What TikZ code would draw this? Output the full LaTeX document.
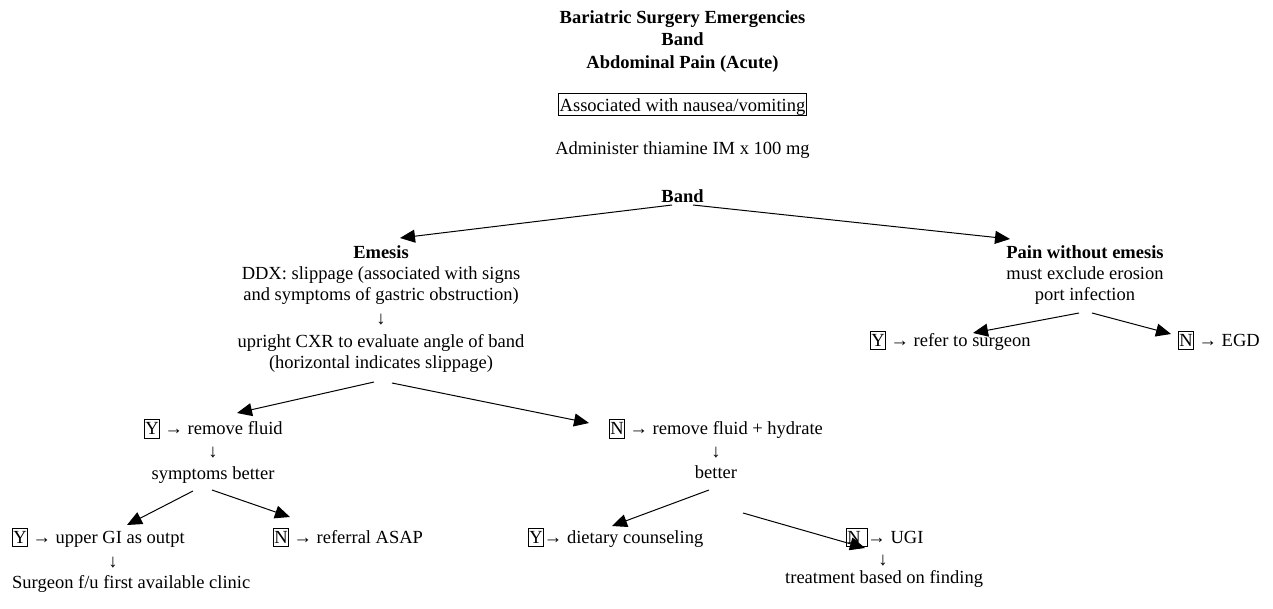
\documentclass[tikz,border=0pt]{standalone}
\usepackage{fontspec}
\setmainfont{Liberation Serif}
\usetikzlibrary{arrows.meta,calc}

% boxed Y / N answer marks
\newcommand{\ynbox}[1]{{\setlength{\fboxsep}{0.4pt}\setlength{\fboxrule}{0.8pt}\fbox{\rule[-2.8pt]{0pt}{16.6pt}#1}}}

\tikzset{
  txt/.style={inner sep=0pt, font=\fontsize{18.5}{21}\selectfont},
  lft/.style={txt, anchor=base west},
  ctr/.style={txt, anchor=base},
  block/.style={txt, anchor=base, align=center},
  heading/.style={inner sep=0pt, anchor=base, align=center, font=\fontsize{18.5}{22.5}\selectfont\bfseries},
  framed/.style={ctr, draw, line width=0.8pt, text height=17.6pt, text depth=2.5pt, inner xsep=1.5pt, inner ysep=0.8pt},
  arr/.style={line width=1pt, -{Triangle[length=15pt,width=13pt]}}
}

\begin{document}
\begin{tikzpicture}[x=1pt, y=-1pt]
\useasboundingbox (0,0) rectangle (1273,609);

% header (multi-line nodes sit on the baseline of their last line)
\node[heading] (title) at (682.5,68.3) {Bariatric Surgery Emergencies\\Band\\Abdominal Pain (Acute)};
\node[framed] (assoc) at (682.5,111.7) {Associated with nausea/vomiting};
\node[ctr] (thiamine) at (682.5,155) {Administer thiamine IM x 100 mg};
\node[ctr, font=\fontsize{18.5}{21}\selectfont\bfseries] (band) at (682.5,203) {Band};

% emesis branch
\node[block] (emesis) at (381,300.7) {\textbf{Emesis}\\DDX: slippage (associated with signs\\and symptoms of gastric obstruction)};
\node[ctr] (down1) at (381,324) {↓};
\node[block] (cxr) at (381,368) {upright CXR to evaluate angle of band\\(horizontal indicates slippage)};

\node[lft] (yrem) at (144,434.3) {\ynbox{Y} → remove fluid};
\node[ctr] (down2) at (213,457) {↓};
\node[ctr] (symp) at (213,479) {symptoms better};
\node[lft] (yupper) at (12,543) {\ynbox{Y} → upper GI as outpt};
\node[lft] (nref) at (273,543) {\ynbox{N} → referral ASAP};
\node[ctr] (down3) at (113,567) {↓};
\node[lft] (surgeon) at (12,588) {Surgeon f/u first available clinic};

\node[lft] (nrem) at (609,434.3) {\ynbox{N} → remove fluid + hydrate};
\node[ctr] (down4) at (716,457) {↓};
\node[ctr] (better) at (716,478) {better};
\node[lft] (ydiet) at (528,543) {\ynbox{Y}→ dietary counseling};
\node[lft] (nugi) at (846,543) {\ynbox{N\hspace{5.5pt}}→ UGI};
\node[ctr] (down5) at (883,565) {↓};
\node[lft] (treat) at (785,583) {treatment based on finding};

% pain branch
\node[block] (pain) at (1085,300.7) {\textbf{Pain without emesis}\\must exclude erosion\\port infection};
\node[lft] (ysurg) at (870,346) {\ynbox{Y} → refer to surgeon};
\node[lft] (negd) at (1178,346) {\ynbox{N} → EGD};

% connectors
\draw[arr] ($(band.base)+(-10.5,2)$) -- ($(emesis.base)+(19,-62.7)$);
\draw[arr] ($(band.base)+(10.5,2)$) -- ($(pain.base)+(-75,-61.7)$);
\draw[arr] ($(pain.base)+(-6,12.3)$) -- ($(ysurg.base west)+(103,-13)$);
\draw[arr] ($(pain.base)+(7,12.3)$) -- ($(negd.base west)+(-7,-12)$);
\draw[arr] ($(cxr.base)+(-7,14)$) -- ($(yrem.base west)+(93,-21.3)$);
\draw[arr] ($(cxr.base)+(11,15)$) -- ($(nrem.base west)+(-20,-11.3)$);
\draw[arr] ($(symp.base)+(-20,12)$) -- ($(yupper.base west)+(115,-18)$);
\draw[arr] ($(symp.base)+(-1,11)$) -- ($(nref.base west)+(17,-26)$);
\draw[arr] ($(better.base)+(-7,12)$) -- ($(ydiet.base west)+(84,-17)$);
\draw[arr] ($(better.base)+(27,35)$) -- ($(nugi.base west)+(19,5)$);
\end{tikzpicture}
\end{document}
